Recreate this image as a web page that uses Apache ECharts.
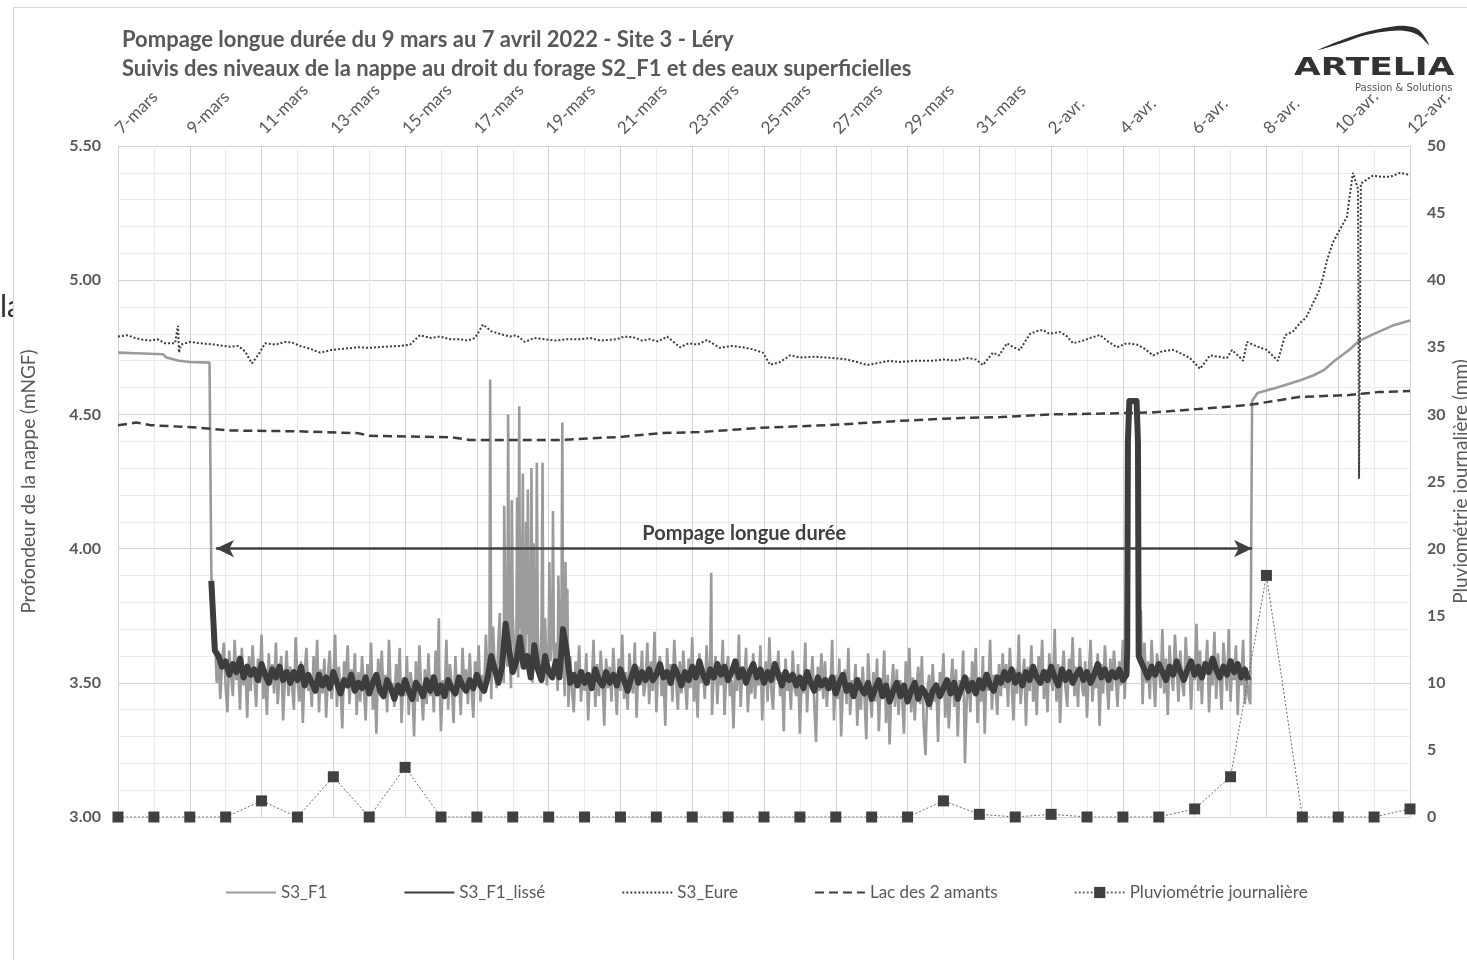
<!DOCTYPE html>
<html>
<head>
<meta charset="utf-8">
<script src="https://cdn.jsdelivr.net/npm/echarts@6/dist/echarts.min.js"></script>
<style>
  html, body { margin: 0; padding: 0; background: #fff; }
  #chart { width: 1467px; height: 960px; }
</style>
</head>
<body>
<div id="chart"></div>
<script>
// Day 0 = 7 mars 2022; x axis runs in days up to 12 avril (day 36).
const tickLabels = ['7-mars', '9-mars', '11-mars', '13-mars', '15-mars', '17-mars', '19-mars',
  '21-mars', '23-mars', '25-mars', '27-mars', '29-mars', '31-mars', '2-avr.', '4-avr.',
  '6-avr.', '8-avr.', '10-avr.', '12-avr.'];

// Daily rainfall (mm), one value per day from 7 mars to 12 avril
const rainMm = [0, 0, 0, 0, 1.2, 0, 3.0, 0, 3.7, 0, 0, 0, 0, 0, 0, 0, 0, 0, 0, 0, 0, 0, 0,
  1.2, 0.2, 0, 0.2, 0, 0, 0, 0.6, 3.0, 18.0, 0, 0, 0, 0.6];

// S3_F1 before pumping starts [day, m NGF]
const f1Before = [[0, 4.73], [0.5, 4.728], [1.25, 4.724], [1.35, 4.712], [1.7, 4.700],
  [2.0, 4.695], [2.55, 4.693], [2.59, 4.69], [2.6, 3.92], [2.65, 3.63]];

// S3_F1 during pumping, 0.05-day readings from day 2.70 to 31.50 (cm NGF), one row per day
const f1PumpStart = 2.7;
const f1Pump = [
  368, 350, 361, 344, 357, 365, 348, 339, 362, 353, 345, 366, 351, 358, 340, 363, 349, 356, 337, 360,
  347, 364, 352, 341, 359, 350, 368, 344, 355, 338, 361, 349, 357, 346, 365, 342, 353, 360, 336, 351,
  362, 345, 356, 349, 340, 367, 351, 343, 358, 335, 354, 363, 347, 352, 341, 360, 348, 366, 339, 355,
  346, 359, 337, 353, 362, 344, 350, 368, 341, 356, 348, 333, 358, 351, 364, 342, 355, 347, 361, 338,
  354, 343, 360, 349, 336, 357, 346, 365, 340, 352, 331, 359, 348, 362, 344, 353, 339, 366, 347, 350,
  341, 357, 348, 363, 335, 352, 345, 360, 338, 354, 349, 330, 358, 343, 364, 347, 336, 355, 342, 361,
  345, 353, 339, 362, 348, 356, 332, 351, 344, 366, 340, 357, 349, 335, 360, 346, 353, 338, 363, 347,
  355, 342, 361, 348, 337, 358, 350, 364, 343, 353, 346, 368, 352, 360, 344, 371, 355, 348, 366, 357,
  362, 350, 372, 356, 366, 348, 375, 358, 364, 352, 370, 361, 378, 355, 368, 359, 373, 350, 366, 357,
  363, 352, 370, 356, 374, 349, 366, 358, 371, 353, 365, 347, 369, 355, 362, 345, 358, 341, 360, 347,
  339, 358, 350, 364, 343, 355, 347, 361, 336, 353, 349, 366, 341, 357, 345, 362, 350, 334, 359, 348,
  356, 343, 363, 350, 338, 359, 347, 368, 344, 354, 340, 361, 352, 346, 365, 337, 356, 349, 362, 345,
  350, 365, 342, 358, 347, 369, 339, 355, 360, 345, 352, 334, 363, 349, 357, 343, 366, 351, 340, 358,
  346, 362, 351, 340, 359, 348, 367, 343, 356, 337, 361, 350, 355, 344, 364, 349, 358, 338, 353, 360,
  342, 357, 349, 366, 338, 354, 360, 345, 351, 333, 358, 347, 368, 341, 356, 350, 363, 339, 352, 346,
  361, 344, 355, 349, 364, 336, 352, 358, 343, 367, 348, 340, 357, 351, 362, 345, 354, 332, 359, 347,
  353, 340, 362, 348, 345, 357, 331, 352, 346, 365, 339, 355, 349, 360, 342, 328, 356, 347, 361, 344,
  358, 341, 352, 347, 366, 336, 353, 344, 359, 330, 349, 355, 342, 363, 338, 351, 346, 357, 334, 352,
  340, 356, 345, 329, 361, 348, 337, 354, 343, 359, 332, 350, 346, 362, 335, 353, 327, 348, 357, 341,
  355, 338, 351, 344, 331, 358, 346, 363, 339, 352, 336, 349, 356, 342, 360, 334, 323, 347, 353, 340,
  357, 343, 350, 328, 354, 345, 361, 337, 352, 333, 348, 359, 341, 355, 330, 351, 346, 362, 320, 344,
  352, 339, 358, 346, 363, 335, 350, 343, 360, 331, 354, 347, 366, 340, 353, 349, 338, 357, 345, 361,
  348, 357, 341, 363, 350, 336, 355, 346, 368, 342, 351, 359, 334, 356, 347, 364, 343, 353, 338, 360,
  349, 366, 344, 355, 339, 361, 351, 347, 370, 343, 357, 335, 353, 362, 348, 341, 359, 350, 367, 345,
  356, 341, 363, 350, 345, 358, 337, 354, 366, 343, 352, 348, 361, 334, 357, 346, 364, 351, 340, 359,
  347, 362, 352, 341, 358, 349, 366, 344, 362, null, null, null, null, null, null, null, 377, 342, 365, 350,
  358, 344, 366, 352, 341, 361, 355, 348, 370, 346, 359, 338, 364, 353, 347, 368, 356, 343, 362, 350,
  345, 367, 354, 360, 340, 357, 351, 372, 347, 362, 342, 358, 353, 366, 339, 356, 349, 369, 344, 361,
  352, 340, 365, 356, 347, 370, 343, 359, 351, 364, 338, 357, 349, 366, 342, 353, 345
];

// Short peaks recorded on S3_F1 [day, m NGF]
const f1Spikes = [[8.94, 3.74], [10.37, 4.63], [10.64, 3.76], [10.76, 4.16], [10.87, 4.50],
  [10.97, 4.18], [11.12, 4.19], [11.18, 4.53], [11.22, 4.05], [11.28, 4.28], [11.37, 4.10],
  [11.42, 4.22], [11.52, 4.30], [11.58, 4.02], [11.67, 4.32], [11.83, 4.32], [12.02, 3.95],
  [12.12, 4.14], [12.27, 3.90], [12.38, 4.47], [12.47, 3.95], [12.52, 3.85], [16.53, 3.91]];

// S3_F1 recovery after pumping stops
const f1After = [[31.55, 3.42], [31.6, 4.55], [31.75, 4.58], [32.3, 4.60], [32.9, 4.625],
  [33.3, 4.645], [33.6, 4.665], [33.9, 4.70], [34.3, 4.74], [34.6, 4.775], [35.0, 4.80],
  [35.5, 4.83], [36.0, 4.85]];

// S3_F1 smoothed, 0.1-day readings from day 2.8 to 31.5 (cm NGF), one row per day
const lisseHead = [[2.6, 3.88], [2.7, 3.62]];
const lisseStart = 2.8;
const lisseVals = [
  360, 356, 358, 353, 357, 354, 359, 352, 356, 353,
  355, 351, 357, 353, 350, 355, 352, 356, 351, 354,
  350, 354, 351, 356, 349, 353, 350, 347, 353, 349,
  352, 348, 354, 350, 346, 351, 349, 353, 347, 350,
  348, 352, 346, 350, 353, 347, 345, 351, 348, 344,
  349, 346, 351, 347, 344, 350, 348, 345, 351, 347,
  352, 346, 349, 345, 351, 348, 346, 352, 349, 347,
  351, 348, 353, 349, 347, 352, 360, 355, 350, 356,
  372, 362, 354, 358, 367, 356, 360, 352, 364, 355,
  351, 360, 354, 352, 358, 352, 370, 362, 350, 353,
  349, 354, 350, 353, 348, 355, 351, 349, 354, 350,
  353, 349, 355, 351, 347, 352, 356, 350, 354, 351,
  355, 351, 353, 357, 352, 354, 350, 356, 353, 349,
  354, 351, 356, 352, 358, 353, 350, 355, 352, 357,
  353, 356, 351, 354, 358, 352, 355, 350, 354, 357,
  352, 355, 350, 354, 351, 357, 353, 349, 354, 351,
  353, 349, 352, 348, 354, 350, 347, 352, 349, 351,
  348, 352, 346, 350, 353, 347, 349, 345, 351, 348,
  346, 350, 344, 348, 351, 345, 349, 343, 347, 350,
  345, 349, 343, 347, 350, 344, 348, 346, 342, 347,
  349, 345, 348, 351, 346, 350, 344, 348, 352, 347,
  350, 346, 351, 348, 353, 349, 347, 352, 350, 354,
  351, 355, 350, 353, 349, 354, 351, 356, 352, 350,
  354, 351, 356, 352, 349, 355, 351, 354, 350, 353,
  355, 351, 354, 350, 353, 357, 352, 355, 351, 354,
  352, 355, 351, 353, null, null, null, 358, 355, 352,
  356, 353, 357, 354, 351, 356, 353, 358, 354, 351,
  355, 358, 353, 356, 352, 357, 354, 359, 355, 352,
  356, 353, 358, 354, 357, 352, 355, 351
];
const lisseSpike = [[28.12, 3.62], [28.14, 4.40], [28.18, 4.55], [28.38, 4.55], [28.42, 4.40], [28.44, 3.60]];

// S3_Eure [day, m NGF]
const s3Eure = [[0, 4.79], [0.25, 4.795], [0.47, 4.785], [0.7, 4.778], [0.89, 4.775], [1.1, 4.78],
  [1.31, 4.765], [1.59, 4.765], [1.67, 4.83], [1.70, 4.73], [1.76, 4.76], [2.0, 4.77],
  [2.28, 4.765], [2.7, 4.76], [3.12, 4.752], [3.35, 4.755], [3.54, 4.735], [3.73, 4.69],
  [3.9, 4.72], [4.1, 4.765], [4.4, 4.76], [4.65, 4.77], [4.85, 4.768], [5.07, 4.755],
  [5.35, 4.745], [5.63, 4.73], [5.95, 4.74], [6.32, 4.745], [6.7, 4.75], [7.02, 4.748],
  [7.4, 4.752], [7.86, 4.755], [8.14, 4.76], [8.41, 4.795], [8.7, 4.785], [8.97, 4.79],
  [9.25, 4.78], [9.53, 4.78], [9.75, 4.775], [9.95, 4.785], [10.17, 4.835], [10.4, 4.81],
  [10.64, 4.80], [10.92, 4.79], [11.1, 4.795], [11.34, 4.77], [11.6, 4.785], [11.9, 4.78],
  [12.2, 4.775], [12.5, 4.78], [12.87, 4.78], [13.15, 4.785], [13.43, 4.775], [13.9, 4.78],
  [14.1, 4.79], [14.35, 4.788], [14.6, 4.775], [14.82, 4.78], [15.05, 4.772], [15.3, 4.79],
  [15.66, 4.75], [15.9, 4.765], [16.15, 4.76], [16.41, 4.777], [16.77, 4.748], [17.1, 4.755],
  [17.41, 4.75], [17.7, 4.742], [17.97, 4.73], [18.17, 4.685], [18.45, 4.695], [18.73, 4.72],
  [19.0, 4.712], [19.4, 4.715], [19.92, 4.71], [20.3, 4.705], [20.6, 4.695], [20.87, 4.684],
  [21.2, 4.692], [21.5, 4.70], [21.79, 4.695], [22.2, 4.70], [22.71, 4.70], [23.0, 4.705],
  [23.3, 4.70], [23.66, 4.71], [23.9, 4.705], [24.1, 4.684], [24.38, 4.73], [24.55, 4.72],
  [24.77, 4.765], [24.95, 4.75], [25.13, 4.74], [25.41, 4.80], [25.6, 4.81], [25.77, 4.815],
  [25.95, 4.80], [26.25, 4.807], [26.45, 4.79], [26.61, 4.765], [26.9, 4.775], [27.1, 4.785],
  [27.36, 4.796], [27.6, 4.77], [27.84, 4.75], [28.1, 4.765], [28.39, 4.76], [28.6, 4.745],
  [28.84, 4.72], [29.1, 4.735], [29.4, 4.74], [29.65, 4.725], [29.87, 4.71], [30.15, 4.67],
  [30.43, 4.72], [30.65, 4.715], [30.9, 4.71], [31.04, 4.74], [31.2, 4.72], [31.35, 4.70],
  [31.46, 4.77], [31.7, 4.755], [32.01, 4.74], [32.32, 4.70], [32.52, 4.795], [32.75, 4.81],
  [32.93, 4.84], [33.1, 4.86], [33.3, 4.915], [33.45, 4.955], [33.57, 5.008], [33.7, 5.08],
  [33.85, 5.14], [34.05, 5.19], [34.24, 5.235], [34.41, 5.40], [34.55, 5.34], [34.58, 4.26],
  [34.63, 5.36], [34.8, 5.375], [34.97, 5.39], [35.2, 5.385], [35.44, 5.385], [35.72, 5.40],
  [35.9, 5.395], [36.0, 5.39]];

// Lac des 2 amants [day, m NGF]
const lacAmants = [[0, 4.46], [0.3, 4.465], [0.5, 4.47], [0.9, 4.46], [2.3, 4.45], [3.1, 4.44],
  [5.0, 4.437], [6.7, 4.43], [7.0, 4.42], [9.3, 4.415], [9.8, 4.405], [12.3, 4.405],
  [14.0, 4.416], [15.1, 4.43], [16.2, 4.434], [17.9, 4.45], [19.8, 4.46], [21.8, 4.476],
  [23.5, 4.487], [24.6, 4.49], [26.0, 4.50], [27.4, 4.503], [28.8, 4.507], [30.1, 4.52],
  [31.5, 4.535], [32.4, 4.554], [32.9, 4.565], [34.3, 4.572], [35.1, 4.583], [36, 4.587]];

// Pumping period marked on the chart
const pumpFrom = 2.73, pumpTo = 31.6, pumpLevel = 4.0, pumpLabelDay = 17.45;

// ---- assemble series data ----
const byDay = (a, b) => a[0] - b[0];
const f1Data = f1Before.slice();
const f1Mid = f1Pump.map((v, i) => [+(f1PumpStart + i * 0.05).toFixed(2), v === null ? null : v / 100]);
f1Data.push(...f1Mid.concat(f1Spikes).sort(byDay));
f1Data.push(...f1After);

const lisseMid = lisseVals
  .map((v, i) => [+(lisseStart + i * 0.1).toFixed(2), v === null ? null : v / 100])
  .filter(p => p[1] !== null)
  .concat(lisseSpike)
  .sort(byDay);
const lisseData = lisseHead.concat(lisseMid);

const rainData = rainMm.map((v, i) => [i, v]);

const FONT = 'Lato';
const GREY = '#595959';

const chart = echarts.init(document.getElementById('chart'));
chart.setOption({
  animation: false,
  backgroundColor: 'transparent',
  title: {
    text: 'Pompage longue durée du 9 mars au 7 avril 2022 - Site 3 - Léry\nSuivis des niveaux de la nappe au droit du forage S2_F1 et des eaux superficielles',
    left: 117, top: 20,
    textStyle: { fontFamily: FONT, fontSize: 22, fontWeight: 'bold', color: GREY, lineHeight: 29 }
  },
  legend: {
    left: 220, top: 879,
    itemGap: 76, itemWidth: 50, itemHeight: 14,
    textStyle: { fontFamily: FONT, fontSize: 17, color: GREY },
    data: [
      { name: 'S3_F1', itemStyle: { opacity: 0 } },
      { name: 'S3_F1_lissé', itemStyle: { opacity: 0 } },
      { name: 'S3_Eure', itemStyle: { opacity: 0 } },
      { name: 'Lac des 2 amants', itemStyle: { opacity: 0 } },
      { name: 'Pluviométrie journalière' }
    ]
  },
  grid: { left: 118, right: 57, top: 146, bottom: 143, outerBoundsMode: 'none', containLabel: false },
  xAxis: {
    type: 'value', position: 'top', min: 0, max: 36, interval: 2,
    axisLine: { show: false }, axisTick: { show: false },
    axisLabel: {
      rotate: 45, margin: 15, fontFamily: FONT, fontSize: 17, color: GREY,
      formatter: v => tickLabels[Math.round(v / 2)] || ''
    },
    splitLine: { show: true, lineStyle: { color: '#d2d2d2', width: 1 } },
    minorTick: { show: false, splitNumber: 2 },
    minorSplitLine: { show: true, lineStyle: { color: '#ebebeb', width: 1 } }
  },
  yAxis: [{
    type: 'value', min: 3, max: 5.5, interval: 0.5,
    name: 'Profondeur de la nappe (mNGF)', nameLocation: 'middle', nameGap: 80, nameRotate: 90,
    nameMoveOverlap: false,
    nameTextStyle: { fontFamily: FONT, fontSize: 19, color: GREY },
    axisLine: { show: false }, axisTick: { show: false },
    axisLabel: { margin: 17, fontFamily: FONT, fontSize: 16, fontWeight: 'bold', color: GREY,
      formatter: v => v.toFixed(2) },
    splitLine: { show: true, lineStyle: { color: '#d2d2d2', width: 1 } },
    minorTick: { show: false, splitNumber: 5 },
    minorSplitLine: { show: true, lineStyle: { color: '#ebebeb', width: 1 } }
  }, {
    type: 'value', min: 0, max: 50, interval: 5, position: 'right',
    name: 'Pluviométrie journalière (mm)', nameLocation: 'middle', nameGap: 41, nameRotate: 90,
    nameMoveOverlap: false,
    nameTextStyle: { fontFamily: FONT, fontSize: 19, color: GREY },
    axisLine: { show: false }, axisTick: { show: false },
    axisLabel: { margin: 17, fontFamily: FONT, fontSize: 16, fontWeight: 'bold', color: GREY },
    splitLine: { show: false }
  }],
  series: [{
    name: 'S3_F1', type: 'line', data: f1Data, symbol: 'none', z: 2,
    lineStyle: { color: '#9b9b9b', width: 2.6 }, itemStyle: { color: '#9b9b9b' },
    markLine: {
      silent: true, symbol: ['arrow', 'arrow'], symbolSize: [13, 18],
      lineStyle: { color: '#404040', width: 2.5, type: 'solid' },
      label: { show: false },
      data: [[{ coord: [pumpFrom, pumpLevel] }, { coord: [pumpTo, pumpLevel] }]]
    },
    markPoint: {
      silent: true, symbol: 'circle', symbolSize: 0,
      itemStyle: { color: 'transparent' },
      label: { show: true, position: 'top', distance: 5, formatter: 'Pompage longue durée',
        fontFamily: FONT, fontSize: 20, fontWeight: 'bold', color: '#404040' },
      data: [{ coord: [pumpLabelDay, pumpLevel] }]
    }
  }, {
    name: 'S3_F1_lissé', type: 'line', data: lisseData, symbol: 'none', z: 3,
    lineStyle: { color: '#3d3d3d', width: 6, join: 'round' }, itemStyle: { color: '#3d3d3d' }
  }, {
    name: 'S3_Eure', type: 'line', data: s3Eure, symbol: 'none', z: 4,
    lineStyle: { color: '#3d3d3d', width: 2, type: [2, 2] }, itemStyle: { color: '#3d3d3d' }
  }, {
    name: 'Lac des 2 amants', type: 'line', data: lacAmants, symbol: 'none', z: 4,
    lineStyle: { color: '#3d3d3d', width: 2.5, type: [9, 5] }, itemStyle: { color: '#3d3d3d' }
  }, {
    name: 'Pluviométrie journalière', type: 'line', yAxisIndex: 1, data: rainData, z: 5,
    symbol: 'rect', symbolSize: 11, showSymbol: true,
    lineStyle: { color: '#6a6a6a', width: 1, type: [2, 2] },
    itemStyle: { color: '#404040' }
  }],
  graphic: [
    // stray text at the page edge and the chart frame
    { type: 'text', z: -20, x: 0, y: 292, style: { text: 'la', font: '30px Lato', fill: '#333' } },
    { type: 'rect', z: -10, shape: { x: 13.5, y: 7.5, width: 1470, height: 970 },
      style: { fill: '#fff', stroke: '#d6d6d6', lineWidth: 1 } },
    // logo
    { type: 'group', z: 100, children: [
      { type: 'rect', shape: { x: 1306, y: 9, width: 160, height: 87 }, style: { fill: '#fff' } },
      { type: 'polygon', shape: { smooth: 0.35, points: [
          [1318, 50], [1342, 40], [1366, 32], [1390, 27], [1406, 26], [1419, 30], [1429, 45],
          [1418, 35], [1405, 31], [1390, 31], [1366, 35], [1342, 43] ] },
        style: { fill: '#2e2e2e' } },
      { type: 'text', x: 1294, y: 56, scaleX: 1.38,
        style: { text: 'ARTELIA', font: 'bold 25px "DejaVu Sans"', fill: '#333' } },
      { type: 'text', x: 1355, y: 83,
        style: { text: 'Passion & Solutions', font: '10px "DejaVu Sans"', fill: '#555' } }
    ] }
  ]
});
</script>
</body>
</html>
